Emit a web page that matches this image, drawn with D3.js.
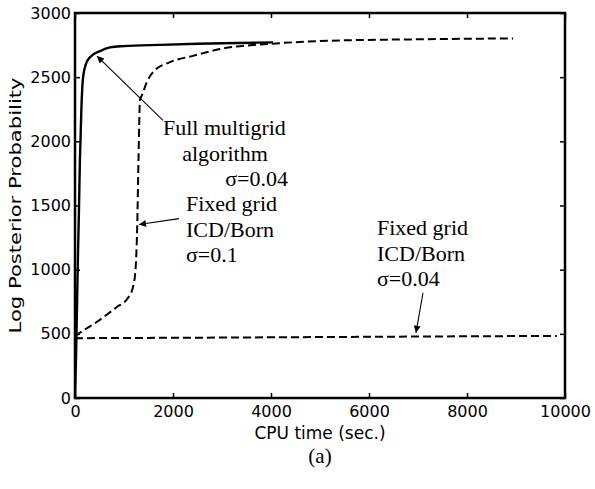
<!DOCTYPE html>
<html>
<head>
<meta charset="utf-8">
<script src="https://cdn.jsdelivr.net/npm/d3@7"></script>
<style>
  body { margin: 0; background: #fff; }
  svg { display: block; }
  .tick text { font-family: "DejaVu Sans", sans-serif; font-size: 16px; fill: #000; }
  .note { font-family: "Liberation Serif", "Times New Roman", serif; font-size: 22px; fill: #000; }
</style>
</head>
<body>
<svg id="chart"></svg>
<script>
// Data (CPU time in sec., log posterior)
const multigridTime = [0, 20, 40, 60, 80, 100, 130, 160, 220, 306, 510, 714, 1000, 1735, 2500, 3300, 4040];
const multigridLogP = [0, 300, 700, 1100, 1450, 1850, 2250, 2480, 2600, 2656, 2703, 2732, 2742, 2752, 2760, 2766, 2771];

const fixed01Time = [0, 41, 449, 857, 1060, 1180, 1235, 1268, 1296, 1327, 1361, 1463, 1592, 1939, 2408, 2959, 4000, 5204, 7000, 8940];
const fixed01LogP = [480, 492, 594, 710, 770, 860, 1000, 1312, 1859, 2328, 2354, 2459, 2539, 2617, 2666, 2719, 2760, 2784, 2795, 2802];

const fixed004Time = [0, 3000, 6000, 9830];
const fixed004LogP = [466, 471, 477, 484];

const xTicks = [0, 2000, 4000, 6000, 8000, 10000];
const yTicks = [0, 500, 1000, 1500, 2000, 2500, 3000];

const notes = [
  { lines: ["Full multigrid", "algorithm", "\u03c3=0.04"], anchors: ["start", "middle", "end"], xs: [163, 225, 288], y0: 135 },
  { lines: ["Fixed grid", "ICD/Born", "\u03c3=0.1"], anchors: ["start", "start", "start"], xs: [186, 186, 186], y0: 211 },
  { lines: ["Fixed grid", "ICD/Born", "\u03c3=0.04"], anchors: ["start", "start", "start"], xs: [377, 377, 377], y0: 235 }
];
// arrows in data units: [from time, from logP, tip time, tip logP]
const arrows = [
  [1796, 2164, 449, 2664],
  [2122, 1398, 1306, 1352],
  [7102, 820, 6959, 508]
];

const width = 595, height = 489;
const margin = { top: 13, right: 30, bottom: 91, left: 75 };

const svg = d3.select("#chart").attr("width", width).attr("height", height);

const x = d3.scaleLinear().domain([0, 10000]).range([margin.left, width - margin.right]);
const y = d3.scaleLinear().domain([0, 3000]).range([height - margin.bottom, margin.top]);

// axes with inward ticks
svg.append("g")
  .attr("transform", `translate(0,${y(0)})`)
  .call(d3.axisBottom(x).tickValues(xTicks).tickSize(-5).tickPadding(8).tickFormat(d3.format("d")))
  .call(g => g.select(".domain").remove());
svg.append("g")
  .attr("transform", `translate(0,${y(3000)})`)
  .call(d3.axisTop(x).tickValues(xTicks).tickSize(-5).tickFormat(""))
  .call(g => g.select(".domain").remove());
svg.append("g")
  .attr("transform", `translate(${x(0)},0)`)
  .call(d3.axisLeft(y).tickValues(yTicks).tickSize(-5).tickPadding(4).tickFormat(d3.format("d")))
  .call(g => g.select(".domain").remove());
svg.append("g")
  .attr("transform", `translate(${x(10000)},0)`)
  .call(d3.axisRight(y).tickValues(yTicks).tickSize(-5).tickFormat(""))
  .call(g => g.select(".domain").remove());
svg.selectAll(".tick line").attr("stroke", "#000").attr("stroke-width", 1.5);

svg.append("rect")
  .attr("x", x(0)).attr("y", y(3000))
  .attr("width", x(10000) - x(0)).attr("height", y(0) - y(3000))
  .attr("fill", "none").attr("stroke", "#000").attr("stroke-width", 2.5);

// curves
const line = d3.line().x(d => x(d[0])).y(d => y(d[1])).curve(d3.curveMonotoneX);
const series = [
  { t: multigridTime, v: multigridLogP, dash: null, w: 2.4 },
  { t: fixed01Time, v: fixed01LogP, dash: "8,4", w: 2 },
  { t: fixed004Time, v: fixed004LogP, dash: "8,4", w: 2 }
];
series.forEach(s => {
  svg.append("path")
    .datum(s.t.map((t, i) => [t, s.v[i]]))
    .attr("d", line)
    .attr("fill", "none")
    .attr("stroke", "#000")
    .attr("stroke-width", s.w)
    .attr("stroke-dasharray", s.dash)
    .attr("stroke-linejoin", "round");
});

// arrows
svg.append("defs").append("marker")
  .attr("id", "head")
  .attr("viewBox", "0 0 10 10")
  .attr("refX", 10).attr("refY", 5)
  .attr("markerWidth", 11).attr("markerHeight", 7)
  .attr("markerUnits", "userSpaceOnUse")
  .attr("orient", "auto")
  .append("path").attr("d", "M0,0 L10,5 L0,10 Z").attr("fill", "#000");

svg.selectAll(".arrow")
  .data(arrows)
  .join("line")
  .attr("class", "arrow")
  .attr("x1", d => x(d[0])).attr("y1", d => y(d[1]))
  .attr("x2", d => x(d[2])).attr("y2", d => y(d[3]))
  .attr("stroke", "#000").attr("stroke-width", 1.1)
  .attr("marker-end", "url(#head)");

// annotation text
notes.forEach(n => {
  n.lines.forEach((txt, i) => {
    svg.append("text")
      .attr("class", "note")
      .attr("x", n.xs[i])
      .attr("y", n.y0 + i * 25.5)
      .attr("text-anchor", n.anchors[i])
      .text(txt);
  });
});

// axis titles
svg.append("text")
  .attr("x", (x(0) + x(10000)) / 2).attr("y", 439)
  .attr("text-anchor", "middle")
  .style("font-family", "DejaVu Sans, sans-serif").style("font-size", "17px")
  .text("CPU time (sec.)");

svg.append("text")
  .attr("transform", `translate(21,${(y(0) + y(3000)) / 2}) rotate(-90)`)
  .attr("text-anchor", "middle")
  .attr("textLength", 256).attr("lengthAdjust", "spacingAndGlyphs")
  .style("font-family", "DejaVu Sans, sans-serif").style("font-size", "16.5px")
  .text("Log Posterior Probability");

svg.append("text")
  .attr("x", (x(0) + x(10000)) / 2).attr("y", 463)
  .attr("text-anchor", "middle")
  .style("font-family", "Liberation Serif, serif").style("font-size", "21px")
  .text("(a)");
</script>
</body>
</html>
